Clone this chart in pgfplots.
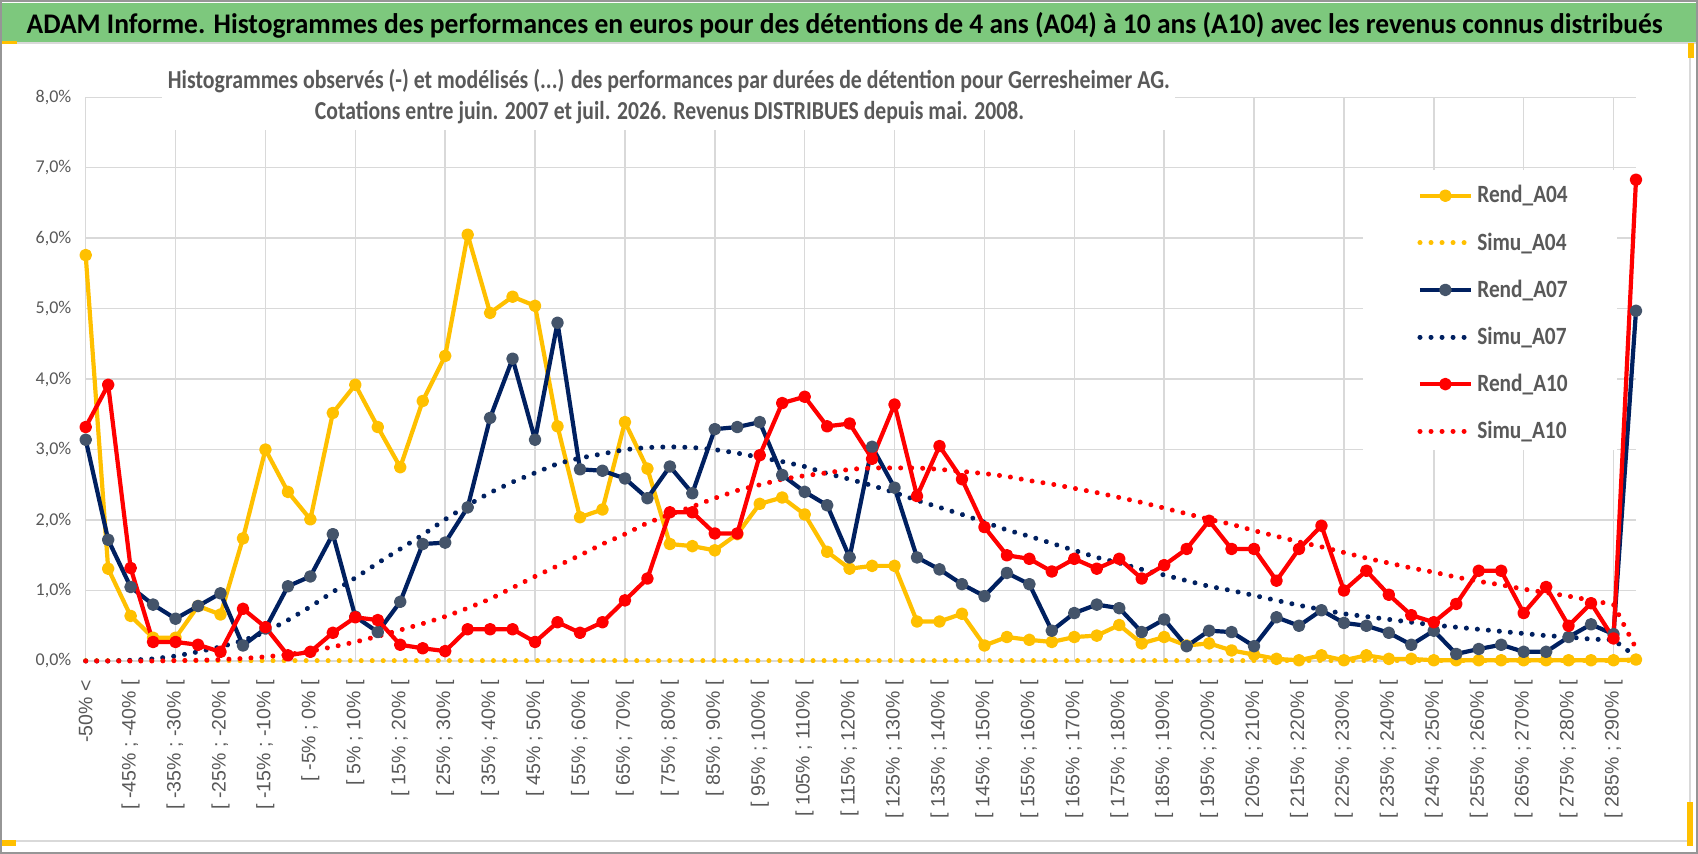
\documentclass[border=0pt]{standalone}
\usepackage{fontspec}
\usepackage{graphicx}
\usepackage{pgfplots}
\usepackage{pgfplotstable}
\pgfplotsset{compat=1.18}
\newfontfamily\carlito{Carlito}
\newfontfamily\libsans{Liberation Sans}
\definecolor{gold}{RGB}{255,192,0}
\definecolor{navy}{RGB}{0,32,96}
\definecolor{navymk}{RGB}{68,84,106}
\definecolor{redc}{RGB}{255,0,0}
\definecolor{gridc}{RGB}{217,217,217}
\definecolor{txtgray}{RGB}{89,89,89}
\definecolor{band}{RGB}{125,200,125}
\definecolor{bordc}{RGB}{150,150,150}
\definecolor{inner}{RGB}{217,217,217}
\newcommand{\legtxt}[1]{\scalebox{0.86}[1]{#1}}

\pgfplotstableread{
idx r04 s04 r07 s07 r10 s10
0 5.76 0 3.14 0.00 3.32 0.00
1 1.31 0 1.72 0.00 3.92 0.00
2 0.64 0 1.05 0.01 1.32 0.00
3 0.33 0 0.80 0.03 0.27 0.00
4 0.33 0 0.60 0.07 0.27 0.005
5 0.78 0 0.78 0.13 0.23 0.01
6 0.66 0 0.96 0.20 0.13 0.02
7 1.74 0 0.22 0.29 0.74 0.035
8 3.00 0 0.46 0.41 0.48 0.06
9 2.40 0 1.06 0.58 0.08 0.09
10 2.01 0 1.20 0.77 0.13 0.14
11 3.52 0 1.80 0.98 0.40 0.20
12 3.92 0 0.63 1.18 0.62 0.27
13 3.32 0 0.41 1.39 0.58 0.35
14 2.75 0 0.84 1.59 0.23 0.44
15 3.69 0 1.66 1.79 0.18 0.53
16 4.33 0 1.68 2.01 0.14 0.63
17 6.05 0 2.18 2.21 0.45 0.75
18 4.94 0 3.45 2.39 0.45 0.88
19 5.17 0 4.29 2.54 0.45 1.04
20 5.04 0 3.14 2.67 0.27 1.20
21 3.33 0 4.80 2.80 0.55 1.35
22 2.04 0 2.72 2.88 0.40 1.50
23 2.15 0 2.70 2.94 0.55 1.66
24 3.39 0 2.59 3.00 0.86 1.80
25 2.73 0 2.31 3.03 1.17 1.96
26 1.66 0 2.76 3.04 2.11 2.08
27 1.63 0 2.38 3.03 2.11 2.19
28 1.57 0 3.29 3.00 1.81 2.31
29 1.80 0 3.32 2.95 1.81 2.42
30 2.23 0 3.39 2.89 2.92 2.50
31 2.32 0 2.64 2.83 3.66 2.58
32 2.08 0 2.40 2.76 3.75 2.63
33 1.55 0 2.21 2.66 3.33 2.67
34 1.31 0 1.47 2.58 3.37 2.72
35 1.35 0 3.04 2.49 2.87 2.74
36 1.35 0 2.46 2.39 3.64 2.74
37 0.56 0 1.47 2.28 2.34 2.74
38 0.56 0 1.30 2.18 3.05 2.72
39 0.67 0 1.09 2.08 2.58 2.69
40 0.22 0 0.92 1.97 1.90 2.66
41 0.34 0 1.25 1.86 1.50 2.62
42 0.30 0 1.09 1.77 1.45 2.56
43 0.27 0 0.43 1.67 1.27 2.51
44 0.34 0 0.68 1.57 1.45 2.45
45 0.36 0 0.80 1.47 1.31 2.39
46 0.51 0 0.75 1.39 1.45 2.32
47 0.25 0 0.41 1.30 1.17 2.25
48 0.34 0 0.59 1.22 1.36 2.17
49 0.22 0 0.21 1.14 1.59 2.09
50 0.25 0 0.43 1.06 1.99 2.01
51 0.15 0 0.41 1.00 1.59 1.94
52 0.09 0 0.21 0.93 1.59 1.85
53 0.03 0 0.62 0.86 1.14 1.77
54 0.01 0 0.50 0.79 1.59 1.69
55 0.08 0 0.72 0.73 1.92 1.62
56 0.01 0 0.54 0.67 1.00 1.54
57 0.08 0 0.50 0.63 1.28 1.46
58 0.03 0 0.40 0.59 0.94 1.39
59 0.03 0 0.23 0.55 0.65 1.32
60 0.01 0 0.43 0.51 0.55 1.26
61 0.01 0 0.10 0.48 0.81 1.19
62 0.01 0 0.17 0.45 1.28 1.13
63 0.01 0 0.23 0.42 1.28 1.08
64 0.01 0 0.13 0.39 0.68 1.02
65 0.01 0 0.13 0.36 1.05 0.97
66 0.01 0 0.34 0.34 0.50 0.92
67 0.01 0 0.52 0.31 0.82 0.86
68 0.01 0 0.38 0.30 0.32 0.80
69 0.02 0 4.97 0.06 6.83 0.18
}\data

\begin{document}
\begin{tikzpicture}
\fill[white] (0pt,0pt) rectangle (849pt,427pt);
\fill[band] (0.5pt,406.15pt) rectangle (848.5pt,425.35pt);
\draw[inner, line width=0.6pt] (0.5pt,405.5pt) -- (848.5pt,405.5pt);
\begin{axis}[
  at={(42.85pt,96.5pt)}, anchor=south west,
  scale only axis, width=775.15pt, height=281.85pt,
  xmin=0, xmax=69, ymin=0, ymax=8,
  clip=false,
  axis line style={draw=none},
  major tick length=0pt,
  xtick={0,2,...,68},
  xticklabels={{-50\% <},{[ -45\% ; -40\% [},{[ -35\% ; -30\% [},{[ -25\% ; -20\% [},{[ -15\% ; -10\% [},{[ -5\% ; 0\% [},{[ 5\% ; 10\% [},{[ 15\% ; 20\% [},{[ 25\% ; 30\% [},{[ 35\% ; 40\% [},{[ 45\% ; 50\% [},{[ 55\% ; 60\% [},{[ 65\% ; 70\% [},{[ 75\% ; 80\% [},{[ 85\% ; 90\% [},{[ 95\% ; 100\% [},{[ 105\% ; 110\% [},{[ 115\% ; 120\% [},{[ 125\% ; 130\% [},{[ 135\% ; 140\% [},{[ 145\% ; 150\% [},{[ 155\% ; 160\% [},{[ 165\% ; 170\% [},{[ 175\% ; 180\% [},{[ 185\% ; 190\% [},{[ 195\% ; 200\% [},{[ 205\% ; 210\% [},{[ 215\% ; 220\% [},{[ 225\% ; 230\% [},{[ 235\% ; 240\% [},{[ 245\% ; 250\% [},{[ 255\% ; 260\% [},{[ 265\% ; 270\% [},{[ 275\% ; 280\% [},{[ 285\% ; 290\% [}},
  xticklabel style={font=\libsans\fontsize{9.75pt}{11pt}\selectfont, text=txtgray, inner sep=0pt, yshift=-9.5pt, rotate=90, anchor=east},
  ytick={0,1,...,8},
  yticklabels={{0,0\%},{1,0\%},{2,0\%},{3,0\%},{4,0\%},{5,0\%},{6,0\%},{7,0\%},{8,0\%}},
  yticklabel style={font=\carlito\fontsize{9pt}{10pt}\selectfont, text=txtgray, inner sep=0pt, xshift=-7pt, anchor=east},
  xmajorgrids=false, ymajorgrids=true,
  extra x ticks={0,4,...,68}, extra x tick labels={},
  extra x tick style={xmajorgrids=true},
  grid style={line width=0.75pt, draw=gridc},
  legend style={at={(0.8588,0.8513)}, anchor=north west, draw=none, fill=none,
     inner sep=0pt, row sep=9.35pt, column sep=2pt,
     nodes={inner xsep=0pt},
     font=\carlito\bfseries\fontsize{12.4pt}{14pt}\selectfont, text=txtgray,
     cells={anchor=west}},
  legend image code/.code={\draw[mark repeat=2,mark phase=2,#1] plot coordinates {(0pt,0pt) (12.7pt,0pt) (25.4pt,0pt)};},
  rend/.style={line width=2.1pt, line join=round, mark=*, mark size=2.1pt},
  simu/.style={line width=2.5pt, line cap=round, dash pattern=on 0.01pt off 5.5pt, mark=none},
]
\fill[white] (axis description cs:0.0492,0.942) rectangle (axis description cs:0.7026,1.066);
\fill[white] (axis description cs:0.8239,0.3743) rectangle (axis description cs:0.9877,0.8710);
\addplot[rend, draw=gold, mark options={solid, fill=gold, draw=gold}] table[x=idx, y=r04] {\data};
\addlegendentry{\legtxt{Rend\_A04}}
\addplot[simu, draw=gold] table[x=idx, y=s04] {\data};
\addlegendentry{\legtxt{Simu\_A04}}
\addplot[rend, draw=navy, mark options={solid, fill=navymk, draw=navymk}] table[x=idx, y=r07] {\data};
\addlegendentry{\legtxt{Rend\_A07}}
\addplot[simu, draw=navy] table[x=idx, y=s07] {\data};
\addlegendentry{\legtxt{Simu\_A07}}
\addplot[rend, draw=redc, mark options={solid, fill=redc, draw=redc}] table[x=idx, y=r10] {\data};
\addlegendentry{\legtxt{Rend\_A10}}
\addplot[simu, draw=redc] table[x=idx, y=s10] {\data};
\addlegendentry{\legtxt{Simu\_A10}}
\end{axis}
\node[anchor=base, inner sep=0pt] at (422.35pt,410.35pt) {\resizebox{818pt}{\height}{\carlito\bfseries\fontsize{14.2pt}{16pt}\selectfont ADAM Informe. Histogrammes des performances en euros pour des détentions de 4 ans (A04) à 10 ans (A10) avec les revenus connus distribués}};
\node[anchor=base, inner sep=0pt, text=txtgray] at (334.5pt,382.85pt) {\resizebox{501pt}{\height}{\carlito\bfseries\fontsize{12.95pt}{15pt}\selectfont Histogrammes observés (-) et modélisés (...) des performances par durées de détention pour Gerresheimer AG.}};
\node[anchor=base, inner sep=0pt, text=txtgray] at (334.75pt,367pt) {\resizebox{354.5pt}{\height}{\carlito\bfseries\fontsize{12.95pt}{15pt}\selectfont Cotations entre juin. 2007 et juil. 2026. Revenus DISTRIBUES depuis mai. 2008.}};
\draw[inner, line width=0.75pt] (0.5pt,6.5pt) -- (845pt,6.5pt) -- (845pt,405pt);
\fill[gold] (0.5pt,4pt) rectangle (8pt,7pt);
\fill[gold] (843.5pt,4pt) rectangle (846.5pt,26pt);
\fill[gold] (0.5pt,405pt) rectangle (8.5pt,406.3pt);
\fill[gold] (844pt,398pt) rectangle (847pt,405.5pt);
\draw[bordc, line width=1pt] (0.5pt,0.5pt) rectangle (848.5pt,426.5pt);
\pgfresetboundingbox
\path[use as bounding box] (0pt,0pt) rectangle (849pt,427pt);
\end{tikzpicture}
\end{document}
